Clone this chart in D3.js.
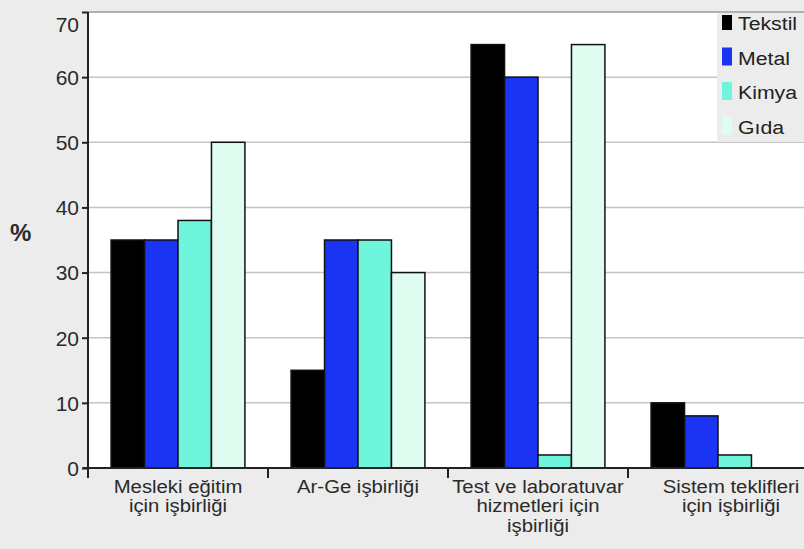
<!DOCTYPE html>
<html>
<head>
<meta charset="utf-8">
<script src="https://cdn.jsdelivr.net/npm/d3@7"></script>
<style>
    body { margin: 0; background: #ececec; }
    svg { display: block; font-family: "Liberation Sans", Arial, sans-serif; }
</style>
</head>
<body>
<svg id="chart"></svg>
<script>
// categories and their label lines
const categories = ['mesleki', 'arge', 'test', 'sistem']
const categoryLines = [
    ['Mesleki eğitim', 'için işbirliği'],
    ['Ar-Ge işbirliği'],
    ['Test ve laboratuvar', 'hizmetleri için', 'işbirliği'],
    ['Sistem teklifleri', 'için işbirliği']
]

const series = ['Tekstil', 'Metal', 'Kimya', 'Gıda']

// % per category
const tekstil = [35, 15, 65, 10]
const metal = [35, 35, 60, 8]
const kimya = [38, 35, 2, 2]
const gida = [50, 30, 65, 0]

const yTicks = [0, 10, 20, 30, 40, 50, 60, 70]

const colors = ['#000000', '#1b34f4', '#6ff5dc', '#dffcf0']

const width = 804
const height = 549
const margin = { top: 12, right: -4, bottom: 81, left: 88 }

const svg = d3.select('#chart')
    .attr('width', width)
    .attr('height', height)

const table = [tekstil, metal, kimya, gida]

//SCALES

const x0 = d3.scaleBand()
    .domain(categories)
    .range([margin.left, width - margin.right])

const x1 = d3.scaleBand()
    .domain(series)
    .range([0, x0.bandwidth()])
    .paddingOuter(0.69)

const y = d3.scaleLinear()
    .domain([0, 70])
    .range([height - margin.bottom, margin.top])

//PLOT AREA

svg.append('rect')
    .attr('x', margin.left)
    .attr('y', margin.top)
    .attr('width', width - margin.left)
    .attr('height', y(0) - margin.top)
    .attr('fill', '#ffffff')

svg.append('g')
    .selectAll('line')
    .data(yTicks.slice(1, -1))
    .join('line')
    .attr('x1', margin.left)
    .attr('x2', width)
    .attr('y1', d => y(d))
    .attr('y2', d => y(d))
    .attr('stroke', '#c4c4c4')
    .attr('stroke-width', 1.5)

svg.append('line')
    .attr('x1', margin.left)
    .attr('x2', width)
    .attr('y1', y(70))
    .attr('y2', y(70))
    .attr('stroke', '#9a9a9a')
    .attr('stroke-width', 1.5)

//BARS

const groups = svg.append('g')
    .selectAll('g')
    .data(categories)
    .join('g')
    .attr('transform', d => 'translate(' + x0(d) + ',0)')

groups.selectAll('rect')
    .data((d, ci) => series.map((s, si) => ({ s: s, si: si, v: table[si][ci] })))
    .join('rect')
    .attr('x', d => x1(d.s))
    .attr('y', d => y(d.v))
    .attr('width', x1.bandwidth())
    .attr('height', d => y(0) - y(d.v))
    .attr('fill', d => colors[d.si])
    .attr('stroke', '#111')
    .attr('stroke-width', 1.5)

//LEGEND

const legend = svg.append('g')

legend.append('rect')
    .attr('x', 717)
    .attr('y', margin.top + 1)
    .attr('width', width - 717)
    .attr('height', 129)
    .attr('fill', '#ececec')

const items = legend.selectAll('.item')
    .data(series)
    .join('g')
    .attr('class', 'item')
    .attr('transform', (d, i) => 'translate(722,' + (30 + i * 34.5) + ')')

items.append('rect')
    .attr('x', 0)
    .attr('y', (d, i) => i === 0 ? -15 : -17)
    .attr('width', 10)
    .attr('height', (d, i) => i === 0 ? 15 : 18)
    .attr('fill', (d, i) => colors[i])

items.append('text')
    .attr('transform', 'translate(16,0) scale(1.12,1)')
    .attr('font-size', 19)
    .attr('fill', '#222')
    .text(d => d)

//AXES

const yAxis = d3.axisLeft(y)
    .tickValues(yTicks)
    .tickSize(6)
    .tickPadding(3)

const yg = svg.append('g')
    .attr('transform', 'translate(' + margin.left + ',0)')
    .call(yAxis)

yg.select('.domain').remove()
yg.selectAll('.tick line').attr('stroke', '#222').attr('stroke-width', 2)
yg.selectAll('.tick text')
    .attr('font-size', 21)
    .attr('fill', '#2a2a2a')
    .attr('font-family', '"Liberation Sans", Arial, sans-serif')
    .attr('dy', d => d === 70 ? '0.95em' : '0.35em')

svg.append('line')
    .attr('x1', margin.left)
    .attr('x2', margin.left)
    .attr('y1', margin.top)
    .attr('y2', y(0) + 10)
    .attr('stroke', '#222')
    .attr('stroke-width', 2)

svg.append('line')
    .attr('x1', margin.left - 5)
    .attr('x2', width)
    .attr('y1', y(0))
    .attr('y2', y(0))
    .attr('stroke', '#222')
    .attr('stroke-width', 2)

// boundary ticks between categories
svg.append('g')
    .selectAll('line')
    .data(categories)
    .join('line')
    .attr('x1', d => x0(d))
    .attr('x2', d => x0(d))
    .attr('y1', y(0))
    .attr('y2', y(0) + 10)
    .attr('stroke', '#222')
    .attr('stroke-width', 2)

const xAxis = d3.axisBottom(x0)
    .tickSize(0)
    .tickFormat('')

const xg = svg.append('g')
    .attr('transform', 'translate(0,' + y(0) + ')')
    .call(xAxis)

xg.select('.domain').remove()

xg.selectAll('.tick')
    .append('text')
    .attr('font-size', 19)
    .attr('fill', '#2a2a2a')
    .attr('text-anchor', 'middle')
    .attr('transform', (d, i) => 'translate(' + (i === categories.length - 1 ? 13 : 0) + ',0) scale(1.07,1)')
    .selectAll('tspan')
    .data((d, i) => categoryLines[i])
    .join('tspan')
    .attr('x', 0)
    .attr('y', (d, i) => 25 + i * 19.5)
    .text(d => d)

svg.append('text')
    .attr('x', 10)
    .attr('y', 241)
    .attr('font-size', 24)
    .attr('font-weight', 'bold')
    .attr('fill', '#2a2a2a')
    .text('%')
</script>
</body>
</html>
